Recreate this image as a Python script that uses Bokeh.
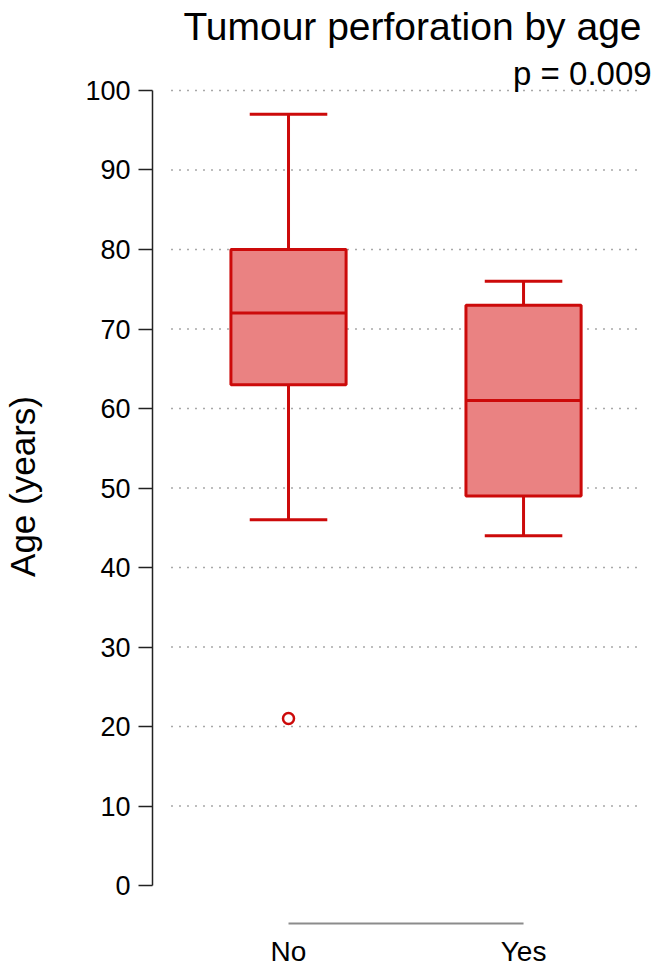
from bokeh.plotting import figure
from bokeh.models import FixedTicker, Label, ColumnDataSource
from bokeh.core.properties import value
from bokeh.embed import file_html
from bokeh.resources import INLINE

# ---- data ----
categories = ["No", "Yes"]
lower_whisker = [46, 44]
q1 = [63, 49]
median = [72, 61]
q3 = [80, 73]
upper_whisker = [97, 76]
outlier_group = ["No"]
outlier_age = [21]
y_ticks = [0, 10, 20, 30, 40, 50, 60, 70, 80, 90, 100]
title_text = "Tumour perforation by age"
p_text = "p = 0.009"
y_label = "Age (years)"

FONT = "Liberation Sans"
LINE = "#CC0A0A"
FILL = "#EA8282"

pos = [i + 1 for i in range(len(categories))]
pos_of = {c: i + 1 for i, c in enumerate(categories)}

p = figure(width=661, height=972, x_range=(0.4213, 2.587), y_range=(-10.94, 111.32),
           min_border_left=152, min_border_right=0, min_border_top=0, min_border_bottom=0,
           x_axis_location=None, toolbar_location=None, output_backend="svg")
p.title.visible = False
p.outline_line_color = None
p.xgrid.visible = False
p.ygrid.visible = False
p.background_fill_color = "white"
p.border_fill_color = "white"

# dotted horizontal grid
grid_y = [t for t in y_ticks if t > 0]
p.segment(x0=[0.5] * len(grid_y), x1=[2.5] * len(grid_y), y0=grid_y, y1=grid_y,
          line_color="#a8a8a8", line_width=1.6, line_dash="2 6")

src = ColumnDataSource(dict(x=pos, lw=lower_whisker, q1=q1, med=median, q3=q3, uw=upper_whisker))

# whiskers
p.segment(x0="x", x1="x", y0="q3", y1="uw", source=src, line_color=LINE, line_width=3)
p.segment(x0="x", x1="x", y0="lw", y1="q1", source=src, line_color=LINE, line_width=3)
# caps
cap_w = 0.33
p.segment(x0=[x - cap_w / 2 for x in pos], x1=[x + cap_w / 2 for x in pos], y0=upper_whisker, y1=upper_whisker,
          line_color=LINE, line_width=3)
p.segment(x0=[x - cap_w / 2 for x in pos], x1=[x + cap_w / 2 for x in pos], y0=lower_whisker, y1=lower_whisker,
          line_color=LINE, line_width=3)
# boxes
p.vbar(x="x", width=0.49, bottom="q1", top="q3", source=src, fill_color=FILL, line_color=LINE, line_width=3)
# medians
p.segment(x0=[x - 0.245 for x in pos], x1=[x + 0.245 for x in pos], y0=median, y1=median,
          line_color=LINE, line_width=3)
# outliers
p.scatter(x=[pos_of[g] for g in outlier_group], y=outlier_age, marker="circle", size=11,
          fill_color=None, line_color=LINE, line_width=2.5)

# x axis (drawn inside the frame: gray line between the groups + category labels)
p.segment(x0=[pos[0]], x1=[pos[-1]], y0=[-4.78], y1=[-4.78], line_color="#8c8c8c", line_width=2)
p.text(x=pos, y=[-8.3] * len(pos), text=categories, text_align="center", text_baseline="middle",
       text_font=value(FONT), text_font_size="28px", text_color="black")

# y axis
ya = p.yaxis[0]
ya.ticker = FixedTicker(ticks=y_ticks)
ya.bounds = (0, 100)
ya.minor_tick_line_color = None
ya.major_tick_out = 14
ya.major_tick_in = 0
ya.major_tick_line_width = 1.5
ya.axis_line_width = 1.5
ya.axis_line_color = "#222222"
ya.major_tick_line_color = "#222222"
ya.major_label_text_font = FONT
ya.major_label_text_font_size = "27px"
ya.major_label_text_color = "black"
ya.major_label_standoff = 8
ya.axis_label = y_label
ya.axis_label_text_font = FONT
ya.axis_label_text_font_size = "35px"
ya.axis_label_text_font_style = "normal"
ya.axis_label_text_color = "black"
ya.axis_label_standoff = 40

# title + p value
p.add_layout(Label(x=2.502, y=108.0, text=title_text, text_align="right", text_baseline="alphabetic",
                   text_font=FONT, text_font_size="39px", text_color="black"))
p.add_layout(Label(x=2.545, y=102.2, text=p_text, text_align="right", text_baseline="alphabetic",
                   text_font=FONT, text_font_size="33px", text_color="black"))

open("out.html", "w").write(file_html(p, INLINE))
